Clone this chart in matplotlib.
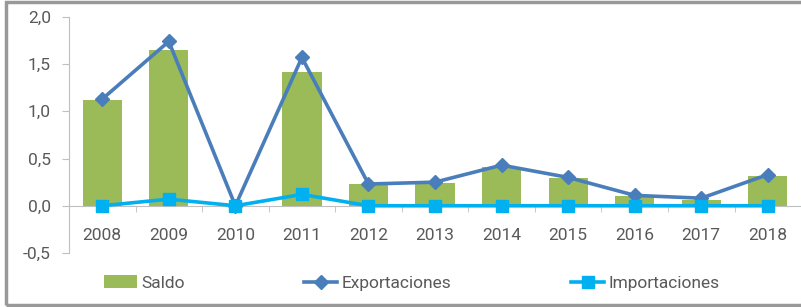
import matplotlib.pyplot as plt
import numpy as np
from matplotlib.patches import Rectangle
from matplotlib.ticker import FuncFormatter

plt.rcParams["font.family"] = ["Roboto", "DejaVu Sans"]

years = ["2008", "2009", "2010", "2011", "2012", "2013", "2014", "2015", "2016", "2017", "2018"]
saldo = [1.12, 1.65, 0.0, 1.42, 0.23, 0.24, 0.41, 0.29, 0.10, 0.06, 0.31]
exportaciones = [1.13, 1.74, 0.0, 1.57, 0.23, 0.25, 0.43, 0.30, 0.11, 0.08, 0.33]
importaciones = [0.0, 0.07, 0.0, 0.12, 0.0, 0.0, 0.0, 0.0, 0.0, 0.0, 0.0]

x = np.arange(len(years))
text_color = "#595959"
axis_color = "#bfbfbf"
fs = 12.5

fig = plt.figure(figsize=(8.01, 3.07), dpi=100)
ax = fig.add_axes([0.0861, 0.176, 0.914, 0.769])

bars = ax.bar(x, saldo, width=0.59, color="#9bbb59", label="Saldo", zorder=2)
(exp_line,) = ax.plot(x, exportaciones, color="#4a7ebb", lw=2.6, marker="D", ms=7,
                      label="Exportaciones", zorder=3)
(imp_line,) = ax.plot(x, importaciones, color="#00b0f0", lw=2.6, marker="s", ms=9,
                      label="Importaciones", zorder=4)

ax.set_xlim(-0.5, len(years) - 0.5)
ax.set_ylim(-0.5, 2.0)
ax.set_yticks(np.arange(-0.5, 2.01, 0.5))
ax.yaxis.set_major_formatter(FuncFormatter(lambda v, _: f"{v:.1f}".replace(".", ",")))

ax.set_xticks(x)
ax.set_xticklabels(years)
ax.set_xticks(np.arange(-0.5, len(years), 1.0), minor=True)
ax.tick_params(axis="x", which="major", length=0, pad=16, labelsize=fs, labelcolor=text_color)
ax.tick_params(axis="x", which="minor", length=4, color=axis_color, direction="out")
ax.tick_params(axis="y", length=5, color=axis_color, pad=8, labelsize=fs, labelcolor=text_color)

for side in ["top", "right"]:
    ax.spines[side].set_visible(False)
ax.spines["bottom"].set_position(("data", 0))
ax.spines["bottom"].set_color(axis_color)
ax.spines["left"].set_color(axis_color)

fig.legend(handles=[bars, exp_line, imp_line], loc="center", bbox_to_anchor=(0.514, 0.078),
           ncol=3, frameon=False, fontsize=fs, labelcolor=text_color, handlelength=1.9,
           handletextpad=0.25, columnspacing=6.9)

fig.patches.append(Rectangle((0.008, 0.007), 1.2, 0.985, transform=fig.transFigure,
                             fill=False, edgecolor="#999999", lw=2.5))

fig.savefig("out.png", dpi=100)
